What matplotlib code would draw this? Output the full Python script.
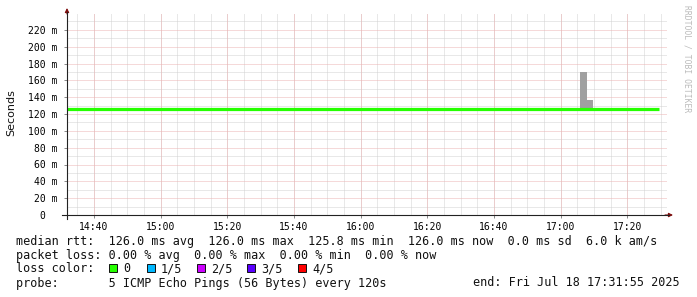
from datetime import datetime, timedelta

import matplotlib
matplotlib.use('Agg')
import matplotlib.pyplot as plt
import matplotlib.dates as mdates
from matplotlib.patches import Rectangle
from matplotlib.ticker import FixedLocator, FuncFormatter

# data (ms)
day = '2025-07-18 '
graph_start = '14:31:55'
graph_end = '17:31:55'
rtt_times = ['14:31:55', '17:29:30']
rtt_values = [126.0, 126.0]
smoke_times = ['17:05:50', '17:07:50']
smoke_low = [125.8, 125.8]
smoke_high = [170.0, 137.0]

loss_labels = ['0', '1/5', '2/5', '3/5', '4/5']
loss_colors = ['#26ff00', '#00b8ff', '#cc00ff', '#5a00ff', '#ff0000']

legend_lines = [
    'median rtt:  126.0 ms avg  126.0 ms max  125.8 ms min  126.0 ms now  0.0 ms sd  6.0 k am/s',
    'packet loss: 0.00 % avg  0.00 % max  0.00 % min  0.00 % now',
    'loss color:',
    'probe:       5 ICMP Echo Pings (56 Bytes) every 120s',
]
end_label = 'end: Fri Jul 18 17:31:55 2025'


def t(s):
    return datetime.strptime(day + s, '%Y-%m-%d %H:%M:%S')


W, H = 697, 297
fig = plt.figure(figsize=(W / 100, H / 100), dpi=100)
fig.patch.set_facecolor('white')

x0, x1, y0, y1 = 67, 667, 215, 13
ax = fig.add_axes([x0 / W, 1 - y0 / H, (x1 - x0) / W, (y0 - y1) / H])
ax.set_facecolor('white')

mono = 'DejaVu Sans Mono'

# smoke
ax.bar([t(s) for s in smoke_times], [h - l for h, l in zip(smoke_high, smoke_low)],
       bottom=smoke_low, width=timedelta(minutes=2), align='edge',
       color='#a0a0a0', linewidth=0, zorder=3)
# median
ax.plot([t(s) for s in rtt_times], rtt_values, color=loss_colors[0],
        linewidth=2.3, solid_capstyle='butt', zorder=4)

ax.set_xlim(t(graph_start), t(graph_end))
ax.set_ylim(0, 240)

# grid
grid_kw = dict(linewidth=0.72, linestyle=(0, (1, 1)))
minor_y = [v for v in range(10, 240, 20)]
major_y = [v for v in range(20, 240, 20)]
for v in minor_y:
    ax.axhline(v, color='#d2d2d2', zorder=1, **grid_kw)
for v in major_y:
    ax.axhline(v, color='#ecb4b4', zorder=2, **grid_kw)

major_x = mdates.MinuteLocator(byminute=[0, 20, 40])
minor_x = mdates.MinuteLocator(byminute=range(0, 60, 5))
ax.xaxis.set_major_locator(major_x)
ax.xaxis.set_minor_locator(minor_x)
ax.xaxis.set_major_formatter(mdates.DateFormatter('%H:%M'))
for v in minor_x():
    ax.axvline(v, color='#d2d2d2', zorder=1, **grid_kw)
for v in major_x():
    ax.axvline(v, color='#ecb4b4', zorder=2, **grid_kw)

ax.yaxis.set_major_locator(FixedLocator([0] + major_y))
ax.yaxis.set_major_formatter(FuncFormatter(lambda v, p: '0  ' if v == 0 else '%d m' % v))

for side in ['top', 'right', 'left', 'bottom']:
    ax.spines[side].set_visible(False)

ax.tick_params(axis='both', which='both', length=2, width=0.7, color='#888888',
               labelsize=7, pad=3)
ax.tick_params(axis='x', which='minor', length=0)
ax.tick_params(axis='y', pad=5)
for lab in ax.get_xticklabels() + ax.get_yticklabels():
    lab.set_family(mono)

# axis lines with arrows
fig.lines.append(plt.Line2D([(x0 - 5) / W, (x1 + 2) / W], [1 - y0 / H, 1 - y0 / H],
                            transform=fig.transFigure, color='#222222', lw=0.8))
fig.lines.append(plt.Line2D([x0 / W, x0 / W], [1 - (y0 + 4) / H, 1 - (y1 - 1) / H],
                            transform=fig.transFigure, color='#222222', lw=0.8))
ax.annotate('', xy=(x1 + 6, H - y0), xytext=(x1 - 2, H - y0), xycoords='figure pixels',
            arrowprops=dict(arrowstyle='-|>', color='#7f1010', lw=0.8,
                            mutation_scale=6, shrinkA=0, shrinkB=0))
ax.annotate('', xy=(x0, H - 8), xytext=(x0, H - 14), xycoords='figure pixels',
            arrowprops=dict(arrowstyle='-|>', color='#7f1010', lw=0.8,
                            mutation_scale=6, shrinkA=0, shrinkB=0))

# labels
fig.text(11 / W, 1 - 113 / H, 'Seconds', rotation=90, ha='center', va='center',
         fontsize=8, family='DejaVu Sans', color='#111111')
fig.text(687 / W, 1 - 5 / H, 'RRDTOOL / TOBI OETIKER', rotation=270, ha='center',
         va='top', fontsize=5.8, family=mono, color='#bbbbbb')

# legend
line_y = [241, 255, 269, 283]
for txt, y in zip(legend_lines, line_y):
    fig.text(16 / W, 1 - y / H, txt, ha='left', va='center', fontsize=8.45,
             family=mono, color='#111111')
fig.text(680 / W, 1 - line_y[3] / H, end_label, ha='right', va='center',
         fontsize=8.45, family=mono, color='#111111')

box_x = [109, 147, 197, 247, 298]
for bx, lab, col in zip(box_x, loss_labels, loss_colors):
    fig.patches.append(Rectangle((bx / W, 1 - 272 / H), 8 / W, 8 / H,
                                 transform=fig.transFigure, facecolor=col,
                                 edgecolor='#111111', linewidth=0.7))
    fig.text((bx + 14) / W, 1 - line_y[2] / H, lab, ha='left', va='center',
             fontsize=8.45, family=mono, color='#111111')

fig.savefig('out.png', dpi=100)
